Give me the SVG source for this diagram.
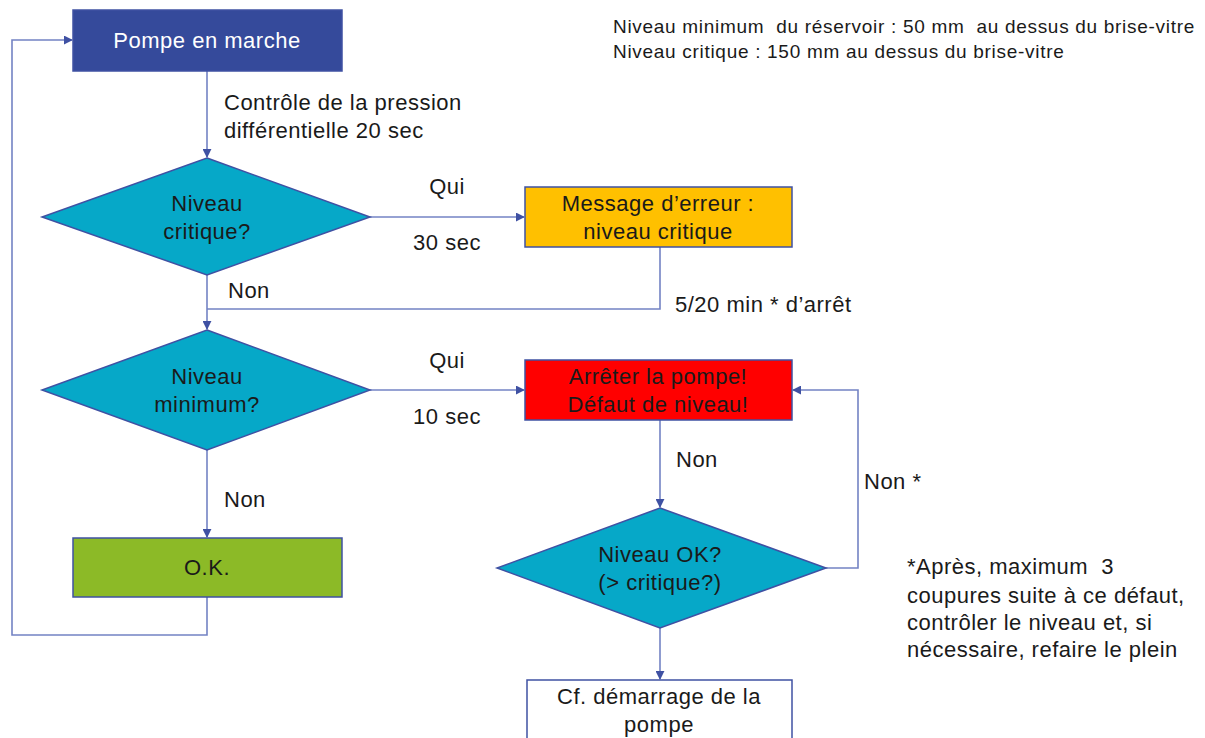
<svg xmlns="http://www.w3.org/2000/svg" width="1205" height="738" viewBox="0 0 1205 738">
<defs>
<style>
text{font-family:"Liberation Sans",Arial,sans-serif;font-size:22px;letter-spacing:0.5px;fill:#1a1a1a}
.c{text-anchor:middle}
.w{fill:#ffffff}
.node{stroke:#3f51a3;stroke-width:1.5}
.line{fill:none;stroke:#7383c4;stroke-width:1.6}
.note{font-size:19px;letter-spacing:0.7px}
</style>
<marker id="arr" viewBox="0 0 10 10" refX="9" refY="5" markerWidth="9" markerHeight="9" markerUnits="userSpaceOnUse" orient="auto">
<path d="M0,0 L10,5 L0,10 z" fill="#3f51a3"/>
</marker>
</defs>
<rect width="1205" height="738" fill="#ffffff"/>
<g id="connectors">
<path class="line" d="M207,71 V157" marker-end="url(#arr)"/>
<path class="line" d="M370,217 H524" marker-end="url(#arr)"/>
<path class="line" d="M660,247 V309 H207"/>
<path class="line" d="M207,275 V329" marker-end="url(#arr)"/>
<path class="line" d="M370,390 H524" marker-end="url(#arr)"/>
<path class="line" d="M660,420 V507" marker-end="url(#arr)"/>
<path class="line" d="M826,568 H858 V390 H793" marker-end="url(#arr)"/>
<path class="line" d="M660,628 V679" marker-end="url(#arr)"/>
<path class="line" d="M207,450 V537" marker-end="url(#arr)"/>
<path class="line" d="M207,597 V635 H12 V40 H72" marker-end="url(#arr)"/>
</g>
<g id="n-pompe">
<rect class="node" x="73" y="10" width="269" height="61" fill="#354a9b"/>
<text class="c w" x="207" y="48">Pompe en marche</text>
</g>
<g id="lbl-controle">
<text x="224" y="110">Contrôle de la pression</text>
<text x="224" y="138">différentielle 20 sec</text>
</g>
<g id="n-critique">
<polygon class="node" points="207,158 370,217 207,275 42,217" fill="#06a8c8"/>
<text class="c" x="207" y="211">Niveau</text>
<text class="c" x="207" y="239">critique?</text>
</g>
<g id="lbl-1">
<text class="c" x="447" y="194">Qui</text>
<text class="c" x="447" y="250">30 sec</text>
<text x="228" y="298">Non</text>
<text x="675" y="312">5/20 min * d’arrêt</text>
</g>
<g id="n-message">
<rect class="node" x="525" y="187" width="267" height="60" fill="#ffc000"/>
<text class="c" x="658" y="211">Message d’erreur :</text>
<text class="c" x="658" y="239">niveau critique</text>
</g>
<g id="n-minimum">
<polygon class="node" points="207,330 370,390 207,450 42,390" fill="#06a8c8"/>
<text class="c" x="207" y="384">Niveau</text>
<text class="c" x="207" y="412">minimum?</text>
</g>
<g id="lbl-2">
<text class="c" x="447" y="368">Qui</text>
<text class="c" x="447" y="424">10 sec</text>
<text x="224" y="507">Non</text>
<text x="676" y="467">Non</text>
<text x="864" y="489">Non *</text>
</g>
<g id="n-arreter">
<rect class="node" x="525" y="360" width="267" height="60" fill="#ff0000"/>
<text class="c" x="658" y="384">Arrêter la pompe!</text>
<text class="c" x="658" y="412">Défaut de niveau!</text>
</g>
<g id="n-ok">
<rect class="node" x="73" y="538" width="269" height="59" fill="#8cba27"/>
<text class="c" x="207" y="575">O.K.</text>
</g>
<g id="n-niveauok">
<polygon class="node" points="660,508 826,568 660,628 497,568" fill="#06a8c8"/>
<text class="c" x="660" y="562">Niveau OK?</text>
<text class="c" x="660" y="590">(&gt; critique?)</text>
</g>
<g id="n-cf">
<rect class="node" x="527" y="680" width="265" height="62" fill="#ffffff"/>
<text class="c" x="659" y="704">Cf. démarrage de la</text>
<text class="c" x="659" y="732">pompe</text>
</g>
<g id="notes">
<text class="note" x="613" y="33" xml:space="preserve">Niveau minimum  du réservoir : 50 mm  au dessus du brise-vitre</text>
<text class="note" x="613" y="58">Niveau critique : 150 mm au dessus du brise-vitre</text>
<text x="907" y="574" xml:space="preserve">*Après, maximum  3</text>
<text x="907" y="603">coupures suite à ce défaut,</text>
<text x="907" y="630">contrôler le niveau et, si</text>
<text x="907" y="657">nécessaire, refaire le plein</text>
</g>
</svg>
